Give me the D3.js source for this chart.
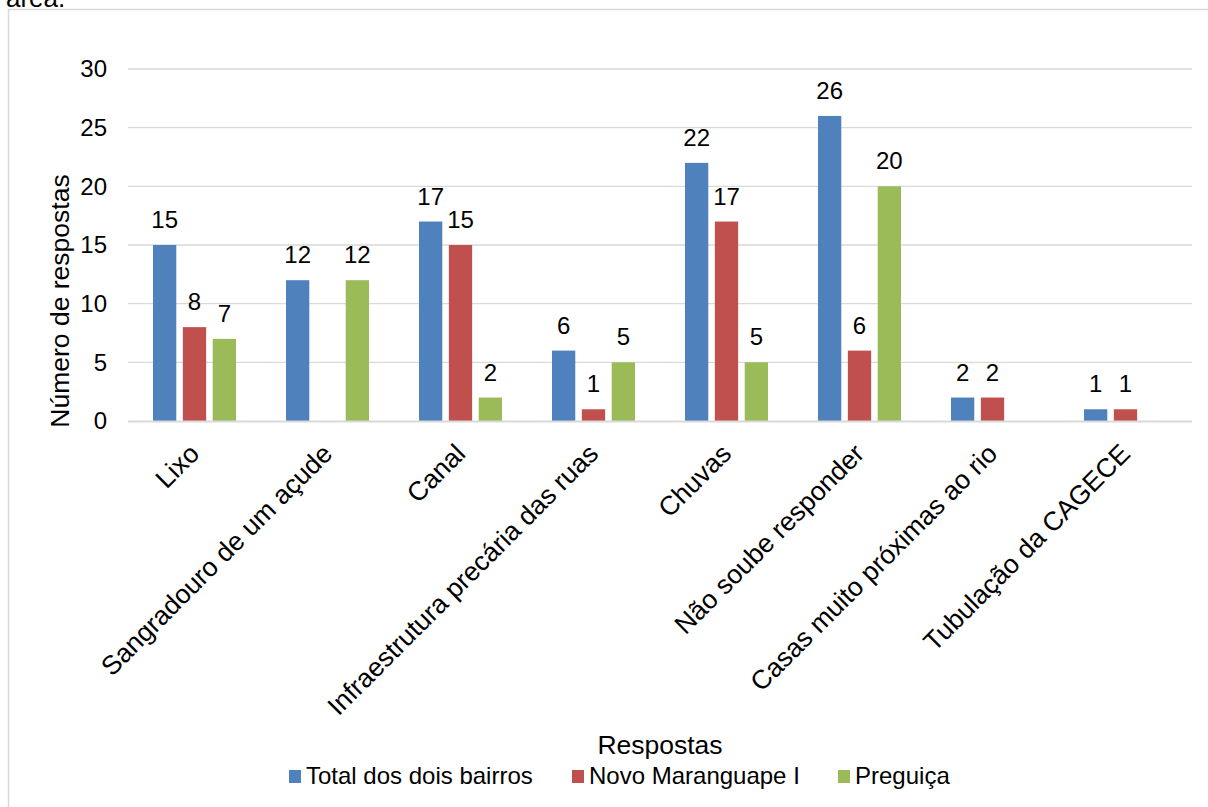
<!DOCTYPE html>
<html>
<head>
<meta charset="utf-8">
<script src="https://cdn.jsdelivr.net/npm/d3@7"></script>
<style>
body { margin: 0; background: #fff; }
text { font-family: "Liberation Sans", Arial, sans-serif; fill: #000; }
</style>
</head>
<body>
<script>
var w = 1208;
var h = 807;

var categories = ["Lixo", "Sangradouro de um açude", "Canal", "Infraestrutura precária das ruas",
  "Chuvas", "Não soube responder", "Casas muito próximas ao rio", "Tubulação da CAGECE"];
var seriesNames = ["Total dos dois bairros", "Novo Maranguape I", "Preguiça"];
var total = [15, 12, 17, 6, 22, 26, 2, 1];
var novo = [8, null, 15, 1, 17, 6, 2, 1];
var preguica = [7, 12, 2, 5, 5, 20, null, null];
var yTicks = [0, 5, 10, 15, 20, 25, 30];
var colors = ["#4f81bd", "#c0504d", "#9bbb59"];

var series = [total, novo, preguica];

var plotLeft = 128, plotRight = 1192, plotTop = 69, plotBottom = 421;

var svg = d3.select("body").append("svg")
  .attr("width", w)
  .attr("height", h);

// text cut off above the chart
svg.append("text")
  .attr("x", 6)
  .attr("y", 7)
  .style("font-size", "26px")
  .text("área.");

// chart border
svg.append("rect")
  .attr("x", 8.5)
  .attr("y", 9.5)
  .attr("width", 1300)
  .attr("height", 900)
  .attr("fill", "#fff")
  .attr("stroke", "#d9d9d9")
  .attr("stroke-width", 1.5);

var xScale = d3.scaleBand()
  .domain(categories)
  .range([plotLeft, plotRight]);

var xInner = d3.scaleBand()
  .domain([0, 1, 2])
  .range([-41.5, 41.5])
  .paddingInner(0.22);

var yScale = d3.scaleLinear()
  .domain([0, 30])
  .range([plotBottom, plotTop]);

// gridlines
svg.selectAll("line.grid")
  .data(yTicks.slice(1))
  .enter()
  .append("line")
  .attr("class", "grid")
  .attr("x1", plotLeft)
  .attr("x2", plotRight)
  .attr("y1", function(d) { return yScale(d); })
  .attr("y2", function(d) { return yScale(d); })
  .attr("stroke", "#d9d9d9")
  .attr("stroke-width", 1.3);

// y tick labels
svg.selectAll("text.ytick")
  .data(yTicks)
  .enter()
  .append("text")
  .attr("class", "ytick")
  .attr("x", 107)
  .attr("y", function(d) { return yScale(d); })
  .attr("dy", "0.35em")
  .attr("text-anchor", "end")
  .style("font-size", "24px")
  .text(function(d) { return d; });

// bars
series.forEach(function(vals, s) {
  var g = svg.append("g");
  var items = vals.map(function(v, i) { return { c: categories[i], v: v }; })
    .filter(function(d) { return d.v !== null; });
  g.selectAll("rect")
    .data(items)
    .enter()
    .append("rect")
    .attr("x", function(d) { return xScale(d.c) + xScale.bandwidth() / 2 + xInner(s); })
    .attr("y", function(d) { return yScale(d.v); })
    .attr("width", xInner.bandwidth())
    .attr("height", function(d) { return plotBottom - yScale(d.v); })
    .attr("fill", colors[s]);
  g.selectAll("text")
    .data(items)
    .enter()
    .append("text")
    .attr("x", function(d) { return xScale(d.c) + xScale.bandwidth() / 2 + xInner(s) + xInner.bandwidth() / 2; })
    .attr("y", function(d) { return yScale(d.v) - 17; })
    .attr("text-anchor", "middle")
    .style("font-size", "24px")
    .text(function(d) { return d.v; });
});

// x axis line
svg.append("line")
  .attr("x1", plotLeft)
  .attr("x2", plotRight)
  .attr("y1", plotBottom + 0.5)
  .attr("y2", plotBottom + 0.5)
  .attr("stroke", "#d9d9d9")
  .attr("stroke-width", 2);

// category labels
svg.selectAll("text.cat")
  .data(categories)
  .enter()
  .append("text")
  .attr("class", "cat")
  .attr("transform", function(d) {
    return "translate(" + (xScale(d) + xScale.bandwidth() / 2 - 7) + "," + 442 + ") rotate(-45)";
  })
  .attr("text-anchor", "end")
  .attr("dy", "0.71em")
  .style("font-size", "26.5px")
  .text(function(d) { return d; });

// y axis title
svg.append("text")
  .attr("transform", "translate(60," + 301 + ") rotate(-90)")
  .attr("text-anchor", "middle")
  .attr("dy", "0.35em")
  .style("font-size", "26.5px")
  .text("Número de respostas");

// x axis title
svg.append("text")
  .attr("x", 660)
  .attr("y", 745)
  .attr("dy", "0.35em")
  .attr("text-anchor", "middle")
  .style("font-size", "26.5px")
  .text("Respostas");

// legend
var legendX = [289, 572, 838];
seriesNames.forEach(function(name, i) {
  svg.append("rect")
    .attr("x", legendX[i])
    .attr("y", 770)
    .attr("width", 12)
    .attr("height", 13)
    .attr("fill", colors[i]);
  svg.append("text")
    .attr("x", legendX[i] + 17)
    .attr("y", 776)
    .attr("dy", "0.35em")
    .style("font-size", "24px")
    .text(name);
});
</script>
</body>
</html>
